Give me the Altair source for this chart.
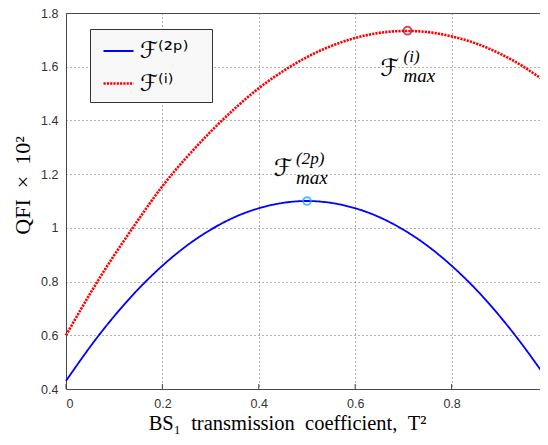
import altair as alt
import pandas as pd

# ---- data ----
x_vals = [0.00, 0.05, 0.10, 0.15, 0.20, 0.25, 0.30, 0.35, 0.40, 0.45, 0.50,
          0.55, 0.60, 0.65, 0.70, 0.75, 0.80, 0.85, 0.90, 0.95, 1.00]
blue_vals = [0.430, 0.557, 0.671, 0.772, 0.859, 0.933, 0.993, 1.040, 1.073, 1.093, 1.100,
             1.093, 1.073, 1.040, 0.993, 0.933, 0.859, 0.772, 0.671, 0.557, 0.432]
red_vals = [0.600, 0.755, 0.898, 1.030, 1.155, 1.262, 1.358, 1.444, 1.520, 1.583, 1.636,
            1.677, 1.707, 1.726, 1.733, 1.729, 1.713, 1.687, 1.649, 1.599, 1.538]
series_names = ["ℱ⁽²ᵖ⁾\u2800", "ℱ⁽ⁱ⁾"]
series_colors = ["#0000ff", "#ff0000"]
max_x = [0.5, 0.7086]
max_y = [1.100, 1.734]
max_colors = ["#1a9cff", "#b0001a"]
sup_texts = ["(2p)", "(i)"]
x_ticks = [0, 0.2, 0.4, 0.6, 0.8, 1]
y_ticks = [0.4, 0.6, 0.8, 1.0, 1.2, 1.4, 1.6, 1.8]

rows = []
for xv, bv in zip(x_vals, blue_vals):
    rows.append({"x": xv, "y": bv, "s": series_names[0]})
for xv, rv in zip(x_vals, red_vals):
    rows.append({"x": xv, "y": rv, "s": series_names[1]})
df = pd.DataFrame(rows)

mdf = pd.DataFrame({"x": max_x, "y": max_y, "c": max_colors, "sup": sup_texts})
tdf = pd.DataFrame({"x": x_ticks})

X = alt.X("x:Q", scale=alt.Scale(domain=[0, 1], nice=False, zero=False),
          axis=alt.Axis(values=x_ticks, format="~g",
                        title="BS₁\u2002transmission\u2002coefficient,\u2002T²",
                        titleX=221, titleY=40, titleBaseline="alphabetic",
                        titleAlign="center", labelPadding=8, titleFontSize=20.5))
Y = alt.Y("y:Q", scale=alt.Scale(domain=[0.4, 1.8], nice=False, zero=False),
          axis=alt.Axis(values=y_ticks, format="~g",
                        title="QFI\u2002×\u200210²",
                        titleX=-44, titleY=172, titleBaseline="middle",
                        titleAlign="center", labelPadding=8, titleFontSize=22))

lines = alt.Chart(df).mark_line(interpolate="natural").encode(
    x=X, y=Y,
    color=alt.Color("s:N", scale=alt.Scale(domain=series_names, range=series_colors),
                    legend=alt.Legend(title=None, orient="none", legendX=24, legendY=16,
                                      fillColor="#f8f8f8", strokeColor="#333333",
                                      padding=6, symbolOffset=6, symbolType="stroke",
                                      symbolSize=900, symbolStrokeWidth=2.5,
                                      labelFont="DejaVu Sans", labelFontSize=23,
                                      labelColor="#000000", labelOffset=5,
                                      rowPadding=4, labelLimit=250)),
    strokeDash=alt.StrokeDash("s:N", scale=alt.Scale(domain=series_names,
                                                     range=[[1, 0], [2.2, 1.1]]),
                              legend=alt.Legend(title=None, orient="none", legendX=24, legendY=16)),
    strokeWidth=alt.StrokeWidth("s:N", scale=alt.Scale(domain=series_names, range=[1.8, 2.6]),
                                legend=None),
    order=alt.Order("x:Q"),
)

# small inward ticks along the bottom axis
xticks_layer = alt.Chart(tdf).mark_rule(color="#444444", strokeWidth=1).encode(
    x=X, y=alt.value(376), y2=alt.value(371)
)

markers = alt.Chart(mdf).mark_point(shape="circle", filled=False, size=60, strokeWidth=2).encode(
    x=X, y=Y, stroke=alt.Stroke("c:N", scale=None)
)

mdf_b = mdf.iloc[[0]]
mdf_r = mdf.iloc[[1]]

def annot(data, dxF, dyF, dxs, dys_sup, dys_sub):
    F = alt.Chart(data).mark_text(text="ℱ", font="DejaVu Sans", fontSize=24, align="center",
                                  baseline="middle", dx=dxF, dy=dyF, color="#000").encode(x=X, y=Y)
    sup = alt.Chart(data).mark_text(font="Liberation Serif", fontSize=17, fontStyle="italic",
                                    align="left", baseline="middle", dx=dxs, dy=dys_sup,
                                    color="#000").encode(x=X, y=Y, text="sup:N")
    sub = alt.Chart(data).mark_text(text="max", font="Liberation Serif", fontSize=19,
                                    fontStyle="italic", align="left", baseline="middle",
                                    dx=dxs, dy=dys_sub, color="#000").encode(x=X, y=Y)
    return [F, sup, sub]

ann = annot(mdf_b, -24, -32, -11, -42, -23) + annot(mdf_r, -18, 38, -4, 26, 45)

chart = alt.layer(lines, xticks_layer, markers, *ann).properties(
    width=482, height=376,
    padding={"left": 58, "top": 5, "right": -8, "bottom": 45},
    autosize=alt.AutoSizeParams(type="none"),
    background="white",
).configure_view(
    stroke="#444444", strokeWidth=1
).configure_axis(
    grid=True, gridColor="#555555", gridDash=[1, 3], gridWidth=1, gridOpacity=0.9,
    domain=False, ticks=False,
    labelFont="Liberation Sans", labelFontSize=12.5, labelColor="#333333",
    titleFont="Liberation Serif", titleFontWeight="normal",
    titleColor="#000000",
)

chart.save("out.html", embed_options={"renderer": "svg", "actions": False})
